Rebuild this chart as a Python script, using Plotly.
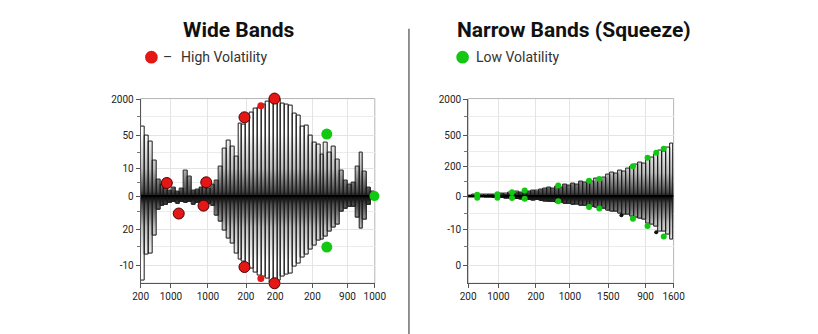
import numpy as np
import plotly.graph_objects as go

W, H = 818, 334

# ---------------- data ----------------
# Left panel (Wide Bands): upper / lower band offsets per bar
wide_upper = [71, 61, 55, 36, 17, 12, 8, 6, 9, 5, 8, 26, 20, 6, 7, 9, 10, 8, 12, 16,
              30, 48, 56, 50, 40, 74, 73, 81, 85, 89, 90, 93, 96, 100, 100, 98, 94, 93, 92, 84,
              82, 71, 72, 61, 54, 52, 42, 54, 44, 50, 37, 26, 16, 12, 14, 30, 44, 25, 9, 5]
wide_lower = [-86, -59, -58, -40, -14, -10, -9, -7, -6, -8, -6, -7, -6, -9, -7, -6, -7, -8, -10, -20,
              -26, -35, -43, -48, -58, -64, -66, -71, -74, -78, -81, -82, -84, -88, -88, -86, -82, -80, -79, -72,
              -69, -62, -59, -54, -50, -45, -44, -41, -36, -32, -29, -16, -13, -11, -11, -22, -33, -24, -9, -4]
wide_xtickvals = [-0.5, 7.25, 16.75, 26.5, 34, 43.5, 52.5, 59.5]
wide_xticktext = ["200", "1000", "1000", "200", "200", "200", "900", "1000"]
wide_ytickvals = [98.3, 62, 28, 0, -34, -70]
wide_yticktext = ["2000", "50", "10", "0", "20", "-10"]
wide_yminor = [81, 44, 14, -16, -51]

red_x = [6.2, 9.25, 16.3, 15.6, 26.1, 26.1, 33.8, 33.8]
red_y = [13.3, -17.7, 14, -9.7, 80, -72, 99, -88.5]
red_small_x = [30.3, 30.3]
red_small_y = [91.7, -83.7]
wide_green_x = [47.2, 47.2]
wide_green_y = [63, -51.7]
wide_green_end_x = [59.4]
wide_green_end_y = [0]

# Right panel (Narrow Bands / Squeeze)
narrow_upper = [1, 1.5, 1, 1.5, 1.5, 2, 2, 2.5, 3, 2.5, 3.5, 3.5, 4.5, 4, 5.5, 5, 6, 5.5, 7, 8,
                9, 8, 10, 9, 12, 11, 13, 12, 15, 14, 16, 15, 18, 17, 19, 22, 24, 23, 26, 25,
                28, 30, 32, 34, 33, 38, 39, 42, 46, 45, 49, 53]
narrow_lower = [-1, -1, -1.5, -1, -1.5, -1.5, -2, -1.5, -2, -2.5, -2.5, -3, -3, -3.5, -3.5, -4, -4.5, -4, -5, -5.5,
                -6, -6, -7, -6.5, -8, -8, -9, -8.5, -10, -10, -11, -11, -12, -13, -13, -15, -16, -16, -18, -19,
                -19, -21, -22, -23, -24, -28, -29, -31, -36, -36, -39, -44]
narrow_xtickvals = [-0.5, 7.17, 16.65, 25.24, 34.97, 44.4, 51.5]
narrow_xticktext = ["200", "1000", "200", "1000", "1500", "900", "1600"]
narrow_ytickvals = [98.3, 62, 30, 0, -34, -70]
narrow_yticktext = ["2000", "500", "200", "0", "-10", "0"]
narrow_yminor = [80.7, 45.7, 15, -17.7, -51]

green_x = [1.8, 1.8, 6.9, 6.9, 10.6, 10.6, 13.8, 13.8, 22.3, 22.3, 30.1, 30.1, 32.7, 32.7,
           41.2, 41.2, 44.9, 44.9, 47.1, 49.0, 49.0]
green_y = [1.3, -1.7, 2, -1.7, 4, -2, 5.7, -2.7, 10.7, -5.3, 15.7, -11, 17.3, -12.7,
           30.3, -23, 39, -30.3, 44, 48, -41]
green_end_x = [51.6]
green_end_y = [0]
black_x = [38.3, 47.1]
black_y = [-19.5, -36.7]

Y_RANGE = [-88.5, 99]

# ---------------- figure ----------------
fig = go.Figure()

def px_x(p):
    return p / W

def px_y(p):
    return 1 - p / H

def add_panel(upper, lower, xa, ya_base, ya_top, stop):
    n = len(upper)
    idx = np.arange(n)
    edges = np.arange(n + 1) - 0.5
    up = np.append(upper, upper[-1])
    lo = np.append(lower, lower[-1])
    scale_up = [[0, "#0a0a0a"], [0.1, "#4a4a4a"], [0.45, "#bdbdbd"], [1, "#ffffff"]]
    scale_lo = [[0, "#ffffff"], [0.55, "#bdbdbd"], [0.9, "#4a4a4a"], [1, "#0a0a0a"]]
    # gradient fills on the base subplot
    fig.add_trace(go.Scatter(x=edges, y=up, mode="lines", line=dict(width=0, shape="hv"),
                             fill="tozeroy",
                             fillgradient=dict(type="vertical", start=0, stop=stop, colorscale=scale_up),
                             xaxis=xa, yaxis=ya_base, hoverinfo="skip", showlegend=False))
    fig.add_trace(go.Scatter(x=edges, y=lo, mode="lines", line=dict(width=0, shape="hv"),
                             fill="tozeroy",
                             fillgradient=dict(type="vertical", start=-stop, stop=0, colorscale=scale_lo),
                             xaxis=xa, yaxis=ya_base, hoverinfo="skip", showlegend=False))
    # bar outlines on the overlay subplot (drawn above the fills)
    fig.add_trace(go.Bar(x=idx, y=np.array(upper) - np.array(lower), base=lower, width=1,
                         marker=dict(color="rgba(0,0,0,0)", line=dict(color="#1a1a1a", width=1)),
                         xaxis=xa, yaxis=ya_top, hoverinfo="skip", showlegend=False))
    # centre (zero) line
    fig.add_trace(go.Scatter(x=[edges[0], edges[-1]], y=[0, 0], mode="lines",
                             line=dict(color="#000000", width=2),
                             xaxis=xa, yaxis=ya_top, hoverinfo="skip", showlegend=False))

add_panel(wide_upper, wide_lower, "x", "y", "y3", 65)
add_panel(narrow_upper, narrow_lower, "x2", "y2", "y4", 55)

RED = "#e51616"
GREEN = "#12c812"

def add_markers(x, y, xa, ya, size, color, line_color=None):
    line = dict(color=line_color, width=1) if line_color else dict(width=0)
    fig.add_trace(go.Scatter(x=x, y=y, mode="markers", opacity=1,
                             marker=dict(size=size, color=color, opacity=1, line=line),
                             cliponaxis=False, xaxis=xa, yaxis=ya, hoverinfo="skip",
                             showlegend=False))

add_markers(red_x, red_y, "x", "y3", 11, RED, "#4a0000")
add_markers(red_small_x, red_small_y, "x", "y3", 7, RED)
add_markers(wide_green_x, wide_green_y, "x", "y3", 11, GREEN)
add_markers(wide_green_end_x, wide_green_end_y, "x", "y3", 10, GREEN)
add_markers(green_x, green_y, "x2", "y4", 6, GREEN)
add_markers(black_x, black_y, "x2", "y4", 4, "#111111")
add_markers(green_end_x, green_end_y, "x2", "y4", 11, GREEN)

tickfont = dict(family="Roboto, Arial, sans-serif", size=10, color="#222222")

def xaxis_cfg(dom, n, tv, tt, anchor):
    return dict(domain=dom, range=[-0.5, n - 0.5], tickmode="array", tickvals=tv, ticktext=tt,
                ticks="outside", ticklen=4, tickcolor="#555", showline=True, linecolor="#555",
                linewidth=1, showgrid=True, gridcolor="#e4e4e4", zeroline=False, anchor=anchor,
                tickfont=tickfont, fixedrange=True)

def yaxis_cfg(tv, tt, minor, anchor):
    return dict(domain=[px_y(282.5), px_y(95)], range=Y_RANGE, tickmode="array",
                tickvals=tv, ticktext=tt, ticks="outside", ticklen=4, tickcolor="#555",
                showline=True, linecolor="#555", linewidth=1, showgrid=True, gridcolor="#e4e4e4",
                zeroline=False, anchor=anchor, tickfont=tickfont, fixedrange=True,
                minor=dict(tickvals=minor, ticks="outside", ticklen=3, tickcolor="#777",
                           showgrid=True, gridcolor="#ececec"))

def overlay_cfg(base, anchor):
    return dict(overlaying=base, anchor=anchor, range=Y_RANGE, visible=False,
                showgrid=False, zeroline=False, fixedrange=True)

fig.update_layout(
    width=W, height=H, autosize=False,
    margin=dict(l=0, r=0, t=0, b=0),
    paper_bgcolor="white", plot_bgcolor="white",
    barmode="overlay", bargap=0,
    showlegend=False,
    xaxis=xaxis_cfg([px_x(136), px_x(376)], len(wide_upper), wide_xtickvals, wide_xticktext, "y"),
    yaxis=yaxis_cfg(wide_ytickvals, wide_yticktext, wide_yminor, "x"),
    xaxis2=xaxis_cfg([px_x(471.7), px_x(682.3)], len(narrow_upper), narrow_xtickvals, narrow_xticktext, "y2"),
    yaxis2=yaxis_cfg(narrow_ytickvals, narrow_yticktext, narrow_yminor, "x2"),
    yaxis3=overlay_cfg("y", "x"),
    yaxis4=overlay_cfg("y2", "x2"),
)

shapes = []
for xr, yr in [("x", "y"), ("x2", "y2")]:
    shapes.append(dict(type="rect", xref=f"{xr} domain", yref=f"{yr} domain", x0=0, x1=1, y0=0, y1=1,
                       line=dict(color="#b5b5b5", width=1), layer="below"))
# separator
shapes.append(dict(type="line", xref="paper", yref="paper", x0=px_x(411), x1=px_x(411),
                   y0=0, y1=px_y(24), line=dict(color="#6e6e6e", width=1.5)))
# legend glyphs
shapes.append(dict(type="circle", xref="paper", yref="paper",
                   x0=px_x(140.5), x1=px_x(153.5), y0=px_y(59.5), y1=px_y(46.5),
                   fillcolor=RED, line=dict(width=0)))
shapes.append(dict(type="circle", xref="paper", yref="paper",
                   x0=px_x(459.5), x1=px_x(472.5), y0=px_y(59.5), y1=px_y(46.5),
                   fillcolor=GREEN, line=dict(width=0)))
fig.update_layout(shapes=shapes)

title_font = dict(family="Roboto, Arial, sans-serif", size=21, color="#111111")
legend_font = dict(family="Roboto, Arial, sans-serif", size=14, color="#333333")
annotations = [
    dict(text="<b>Wide Bands</b>", x=px_x(236.5), y=px_y(25), xref="paper", yref="paper",
         xanchor="center", yanchor="middle", showarrow=False, font=title_font),
    dict(text="<b>Narrow Bands (Squeeze)</b>", x=px_x(580), y=px_y(25), xref="paper", yref="paper",
         xanchor="center", yanchor="middle", showarrow=False, font=title_font),
    dict(text="–", x=px_x(163), y=px_y(53), xref="paper", yref="paper",
         xanchor="center", yanchor="middle", showarrow=False, font=legend_font),
    dict(text="High Volatility", x=px_x(175), y=px_y(53), xref="paper", yref="paper",
         xanchor="left", yanchor="middle", showarrow=False, font=legend_font),
    dict(text="Low Volatility", x=px_x(478), y=px_y(53), xref="paper", yref="paper",
         xanchor="left", yanchor="middle", showarrow=False, font=legend_font),
]
fig.update_layout(annotations=annotations)

fig.write_html("out.html")
